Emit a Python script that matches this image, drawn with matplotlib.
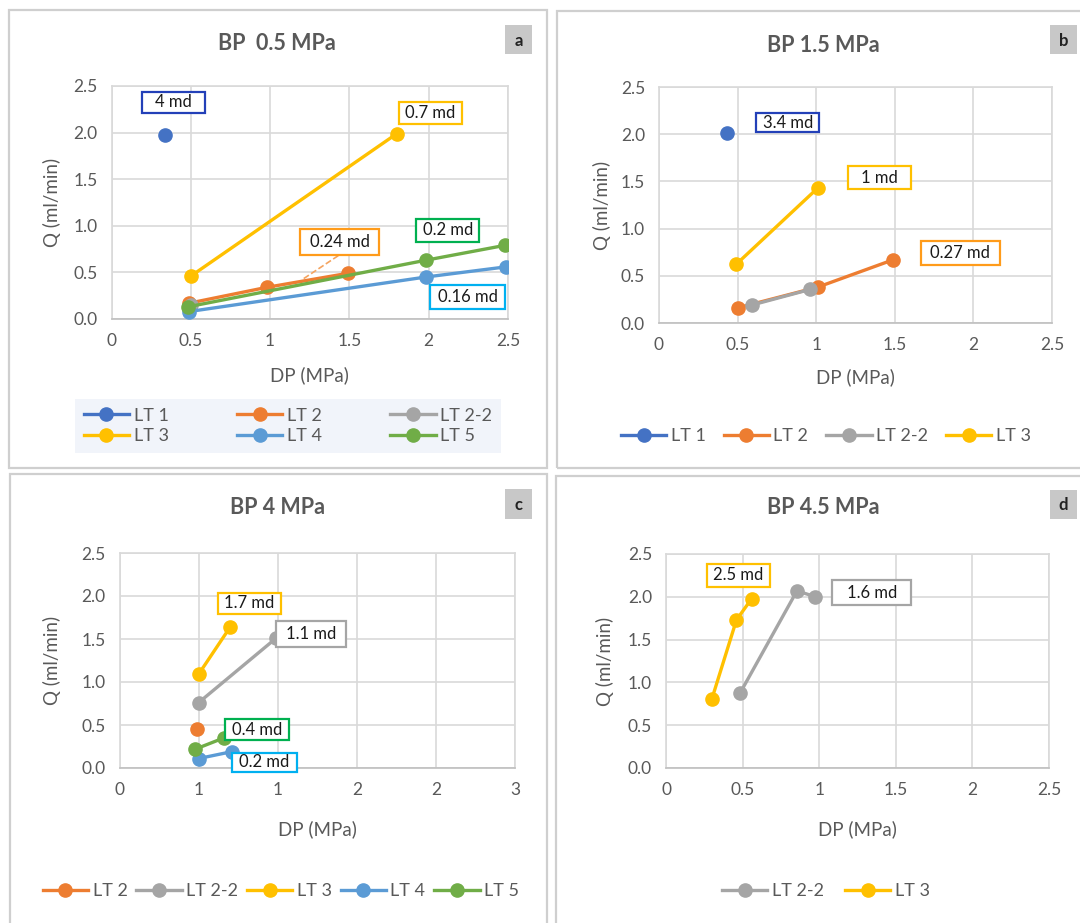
import matplotlib
matplotlib.use("Agg")
import matplotlib.pyplot as plt
from matplotlib.patches import Rectangle

plt.rcParams['font.family'] = ['Lato', 'DejaVu Sans']

W, H = 1080, 923

# series colours (Excel default palette)
COL = {"LT 1": "#4472C4", "LT 2": "#ED7D31", "LT 2-2": "#A5A5A5",
       "LT 3": "#FFC000", "LT 4": "#5B9BD5", "LT 5": "#70AD47"}

# ---- panel a: BP 0.5 MPa
a_series = ["LT 1", "LT 2", "LT 2-2", "LT 3", "LT 4", "LT 5"]
a_x = {"LT 1": [0.34], "LT 2": [0.49, 0.98, 1.49], "LT 2-2": [0.50],
       "LT 3": [0.50, 1.80], "LT 4": [0.49, 1.98, 2.49], "LT 5": [0.48, 1.98, 2.48]}
a_y = {"LT 1": [1.97], "LT 2": [0.17, 0.34, 0.49], "LT 2-2": [0.15],
       "LT 3": [0.46, 1.99], "LT 4": [0.08, 0.45, 0.56], "LT 5": [0.13, 0.63, 0.79]}
a_notes = [("4 md", 0.19, 0.59, 2.21, 2.44, "#2340B8"),
           ("0.7 md", 1.81, 2.21, 2.09, 2.33, "#FFC000"),
           ("0.24 md", 1.19, 1.685, 0.69, 0.97, "#FF9B1A"),
           ("0.2 md", 1.92, 2.32, 0.83, 1.07, "#00B050"),
           ("0.16 md", 2.01, 2.48, 0.11, 0.36, "#00B0F0")]

# ---- panel b: BP 1.5 MPa
b_series = ["LT 1", "LT 2", "LT 2-2", "LT 3"]
b_x = {"LT 1": [0.43], "LT 2": [0.50, 1.01, 1.49], "LT 2-2": [0.59, 0.96],
       "LT 3": [0.49, 1.01]}
b_y = {"LT 1": [2.01], "LT 2": [0.16, 0.38, 0.67], "LT 2-2": [0.19, 0.355],
       "LT 3": [0.62, 1.43]}
b_notes = [("3.4 md", 0.62, 1.02, 2.02, 2.22, "#2340B8"),
           ("1 md", 1.20, 1.60, 1.42, 1.66, "#FFC000"),
           ("0.27 md", 1.665, 2.17, 0.61, 0.87, "#FF9B1A")]

# ---- panel c: BP 4 MPa
c_series = ["LT 2", "LT 2-2", "LT 3", "LT 4", "LT 5"]
c_x = {"LT 2": [0.49], "LT 2-2": [0.50, 0.99], "LT 3": [0.50, 0.70],
       "LT 4": [0.50, 0.71], "LT 5": [0.48, 0.66]}
c_y = {"LT 2": [0.45], "LT 2-2": [0.76, 1.51], "LT 3": [1.09, 1.64],
       "LT 4": [0.11, 0.19], "LT 5": [0.22, 0.35]}
c_notes = [("1.7 md", 0.62, 1.02, 1.79, 2.04, "#FFC000"),
           ("1.1 md", 0.99, 1.43, 1.41, 1.71, "#A5A5A5"),
           ("0.4 md", 0.67, 1.07, 0.32, 0.57, "#00B050"),
           ("0.2 md", 0.71, 1.12, -0.05, 0.18, "#00B0F0")]
c_xticklabels = ["0", "1", "1", "2", "2", "3"]

# ---- panel d: BP 4.5 MPa
d_series = ["LT 2-2", "LT 3"]
d_x = {"LT 2-2": [0.485, 0.855, 0.975], "LT 3": [0.30, 0.46, 0.56]}
d_y = {"LT 2-2": [0.88, 2.07, 2.00], "LT 3": [0.81, 1.73, 1.98]}
d_notes = [("2.5 md", 0.265, 0.68, 2.12, 2.38, "#FFC000"),
           ("1.6 md", 1.085, 1.60, 1.90, 2.20, "#A5A5A5")]

fig = plt.figure(figsize=(W / 100, H / 100), dpi=100)
fig.patch.set_facecolor("white")


def fx(px):
    return px / W


def fy(py):
    return 1 - py / H


# panel frames
for (l, t, r, b) in [(9, 10, 547, 468), (557, 11, 1090, 468),
                     (10, 474, 547, 930), (556, 476, 1090, 930)]:
    fig.patches.append(Rectangle((fx(l), fy(b)), fx(r - l), (b - t) / H,
                                 transform=fig.transFigure, fill=False,
                                 edgecolor="#CFCFCF", lw=1.6))


def panel(rect, title, tcenter, letter, lrect, series, xs, ys, notes,
          xtl=None, ylab_x=52, xlab_y=375):
    l, r, t, b = rect
    ax = fig.add_axes([fx(l), fy(b), fx(r - l), (b - t) / H])
    for s in series:
        ax.plot(xs[s], ys[s], "-o", color=COL[s], lw=2.4, ms=9.5, label=s,
                zorder=3)
    ax.set_xlim(0, 2.5)
    ax.set_ylim(0, 2.5)
    ax.set_xticks([0, 0.5, 1, 1.5, 2, 2.5])
    if xtl is None:
        ax.set_xticklabels(["0", "0.5", "1", "1.5", "2", "2.5"])
    else:
        ax.set_xticklabels(xtl)
    ax.set_yticks([0, 0.5, 1, 1.5, 2, 2.5])
    ax.set_yticklabels(["0.0", "0.5", "1.0", "1.5", "2.0", "2.5"])
    ax.grid(True, color="#D9D9D9", lw=1.2)
    ax.set_axisbelow(True)
    for sp in ax.spines.values():
        sp.set_color("#D9D9D9")
        sp.set_linewidth(1.2)
    ax.spines["bottom"].set_color("#BFBFBF")
    ax.tick_params(length=0, labelsize=12.5, colors="#595959", pad=10)
    for (txt, x0, x1, y0, y1, c) in notes:
        ax.add_patch(Rectangle((x0, y0), x1 - x0, y1 - y0, facecolor="white",
                               edgecolor=c, lw=1.6, zorder=5, clip_on=False))
        ax.text((x0 + x1) / 2, (y0 + y1) / 2, txt, ha="center", va="center",
                fontsize=12, color="#1A1A1A", zorder=6)
    fig.text(fx(tcenter[0]), fy(tcenter[1]), title, ha="center", va="center",
             fontsize=15.5, fontweight="bold", color="#595959")
    ll, lt, lr, lb = lrect
    fig.patches.append(Rectangle((fx(ll), fy(lb)), fx(lr - ll), (lb - lt) / H,
                                 transform=fig.transFigure, facecolor="#C8C8C8",
                                 edgecolor="none"))
    fig.text(fx((ll + lr) / 2), fy((lt + lb) / 2 + 1), letter, ha="center",
             va="center", fontsize=12, fontweight="bold", color="#222222")
    fig.text(fx(ylab_x), fy((t + b) / 2), "Q (ml/min)", rotation=90,
             ha="center", va="center", fontsize=13.5, color="#595959")
    fig.text(fx((l + r) / 2), fy(xlab_y), "DP (MPa)", ha="center",
             va="center", fontsize=13.5, color="#595959")
    return ax


ax_a = panel((111.5, 508, 86, 319), "BP  0.5 MPa", (277, 43), "a",
             (505, 25, 532, 54), a_series, a_x, a_y, a_notes, xlab_y=375)
ax_a.plot([1.43, 1.20], [0.68, 0.42], "--", color="#F4A460", lw=1.2, zorder=4)
ax_b = panel((659, 1052, 87, 323), "BP 1.5 MPa", (823, 45), "b",
             (1050, 25, 1077, 54), b_series, b_x, b_y, b_notes, ylab_x=602,
             xlab_y=377)
ax_c = panel((119.5, 515, 553, 768), "BP 4 MPa", (277, 507), "c",
             (505, 489, 532, 519), c_series, c_x, c_y, c_notes, xtl=c_xticklabels,
             xlab_y=829)
ax_d = panel((666, 1049, 554, 768), "BP 4.5 MPa", (823, 508), "d",
             (1050, 490, 1077, 519), d_series, d_x, d_y, d_notes, ylab_x=605,
             xlab_y=829)

# legends
leg_kw = dict(frameon=False, fontsize=13, handlelength=2.5, handletextpad=0.25,
              labelcolor="#595959", borderaxespad=0)
# panel a legend is filled row by row
h, lab = ax_a.get_legend_handles_labels()
order = [0, 3, 1, 4, 2, 5]
la = ax_a.legend([h[i] for i in order], [lab[i] for i in order],
                 loc="center", bbox_to_anchor=(fx(288), fy(426)),
                 bbox_transform=fig.transFigure, ncol=3, columnspacing=3.8,
                 frameon=True, fontsize=13, handlelength=2.5,
                 handletextpad=0.25, labelcolor="#595959", borderpad=0.5,
                 labelspacing=0.25)
la.get_frame().set_facecolor("#EEF2F9")
la.get_frame().set_edgecolor("none")
la.get_frame().set_boxstyle("square", pad=0.0)
ax_b.legend(loc="center", bbox_to_anchor=(fx(826), fy(436)),
            bbox_transform=fig.transFigure, ncol=4, columnspacing=1.0, **leg_kw)
ax_c.legend(loc="center", bbox_to_anchor=(fx(281), fy(891)),
            bbox_transform=fig.transFigure, ncol=5, columnspacing=0.5, **leg_kw)
ax_d.legend(loc="center", bbox_to_anchor=(fx(826), fy(891)),
            bbox_transform=fig.transFigure, ncol=2, columnspacing=1.2, **leg_kw)

fig.savefig("out.png", dpi=100)
